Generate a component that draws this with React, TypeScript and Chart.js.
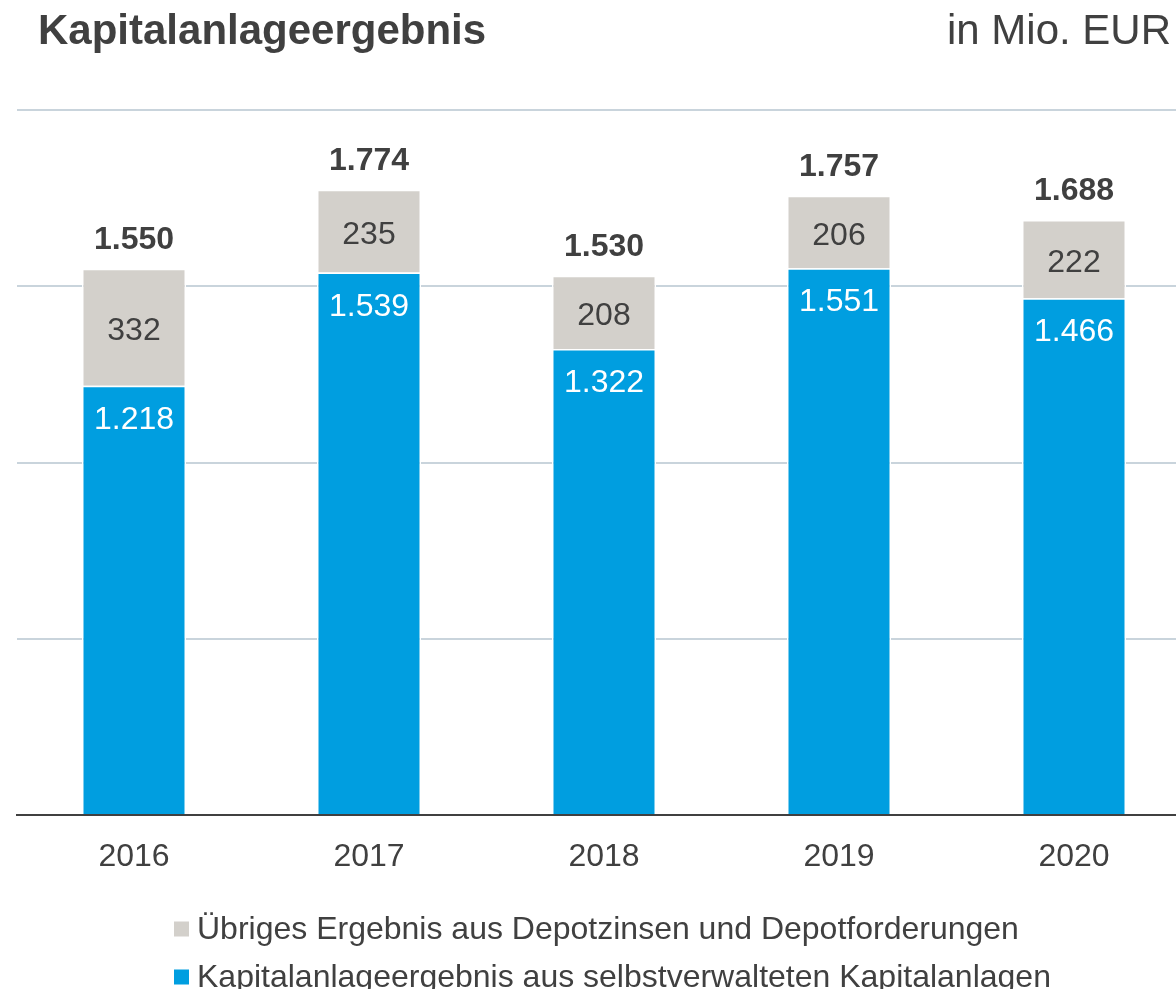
import React, { useEffect, useRef } from "react";
import { Chart, registerables } from "chart.js";

Chart.register(...registerables);

const years = ["2016", "2017", "2018", "2019", "2020"];
const selfManaged = [1218, 1539, 1322, 1551, 1466];
const otherResult = [332, 235, 208, 206, 222];
const totals = [1550, 1774, 1530, 1757, 1688];
const yMax = 2000;
const yStep = 500;
const seriesNames = [
  "Übriges Ergebnis aus Depotzinsen und Depotforderungen",
  "Kapitalanlageergebnis aus selbstverwalteten Kapitalanlagen",
];
const titleText = "Kapitalanlageergebnis";
const unitText = "in Mio. EUR";

const FONT = '"Liberation Sans", Arial, Helvetica, sans-serif';
const TEXT = "#404040";
const BLUE = "#009ee0";
const GREY = "#d3d0cb";

const fmt = (v: number) => String(v).replace(/\B(?=(\d{3})+(?!\d))/g, ".");

const labelPlugin = {
  id: "labels",
  afterDatasetsDraw(chart: any) {
    const ctx = chart.ctx;
    const blueMeta = chart.getDatasetMeta(0);
    const greyMeta = chart.getDatasetMeta(1);
    ctx.save();
    ctx.textAlign = "center";
    ctx.textBaseline = "alphabetic";
    years.forEach((_, i) => {
      const b = blueMeta.data[i];
      const g = greyMeta.data[i];
      ctx.font = `32px ${FONT}`;
      ctx.fillStyle = "#ffffff";
      ctx.fillText(fmt(selfManaged[i]), b.x, b.y + 43);
      ctx.fillStyle = TEXT;
      const mid = (g.y + g.base) / 2;
      ctx.fillText(fmt(otherResult[i]), g.x, mid + 13);
      ctx.font = `bold 32px ${FONT}`;
      ctx.fillText(fmt(totals[i]), g.x, g.y - 19.5);
    });
    ctx.restore();
  },
  afterDraw(chart: any) {
    const ctx = chart.ctx;
    ctx.save();
    ctx.fillStyle = TEXT;
    ctx.textBaseline = "alphabetic";
    ctx.textAlign = "left";
    ctx.font = `bold 42px ${FONT}`;
    ctx.fillText(titleText, 38, 44);
    ctx.textAlign = "right";
    ctx.font = `42px ${FONT}`;
    ctx.fillText(unitText, 1171, 44);
    ctx.textAlign = "left";
    ctx.font = `32px ${FONT}`;
    const items = [
      { text: seriesNames[0], color: GREY, y: 938.5 },
      { text: seriesNames[1], color: BLUE, y: 986.5 },
    ];
    items.forEach((it) => {
      ctx.fillStyle = it.color;
      ctx.fillRect(174, it.y - 17, 15, 15);
      ctx.fillStyle = TEXT;
      ctx.fillText(it.text, 197, it.y);
    });
    ctx.restore();
  },
};

export default function App() {
  const ref = useRef<HTMLCanvasElement | null>(null);
  useEffect(() => {
    if (!ref.current) return;
    const chart = new Chart(ref.current, {
      type: "bar",
      data: {
        labels: years,
        datasets: [
          {
            label: seriesNames[1],
            data: selfManaged,
            backgroundColor: BLUE,
            borderColor: "#ffffff",
            borderWidth: 1.5,
          },
          {
            label: seriesNames[0],
            data: otherResult,
            backgroundColor: GREY,
            borderColor: "#ffffff",
            borderWidth: 1.5,
          },
        ],
      },
      options: {
        animation: false,
        responsive: false,
        layout: { padding: { left: 16.5, right: 8.5, top: 110, bottom: 114 } },
        datasets: { bar: { barPercentage: 0.4426, categoryPercentage: 1 } },
        plugins: { legend: { display: false }, tooltip: { enabled: false }, title: { display: false } },
        scales: {
          x: {
            stacked: true,
            grid: { display: false },
            border: { display: true, color: TEXT, width: 2 },
            ticks: { color: TEXT, font: { family: FONT, size: 32 }, padding: 15, maxRotation: 0 },
            afterFit: (axis: any) => {
              axis.height = 60;
            },
          },
          y: {
            stacked: true,
            min: 0,
            max: yMax,
            ticks: { display: false, stepSize: yStep },
            grid: {
              drawTicks: false,
              lineWidth: 2,
              color: (c: any) => (c.tick && c.tick.value === 0 ? "rgba(0,0,0,0)" : "#c9d4dc"),
            },
            border: { display: false },
            afterFit: (axis: any) => {
              axis.width = 0;
            },
          },
        },
      },
      plugins: [labelPlugin],
    });
    return () => chart.destroy();
  }, []);
  return (
    <div style={{ position: "fixed", left: 0, top: 0, width: 1176, height: 989, overflow: "hidden", background: "#fff" }}>
      <canvas ref={ref} width={1200} height={989} style={{ display: "block" }} />
    </div>
  );
}
